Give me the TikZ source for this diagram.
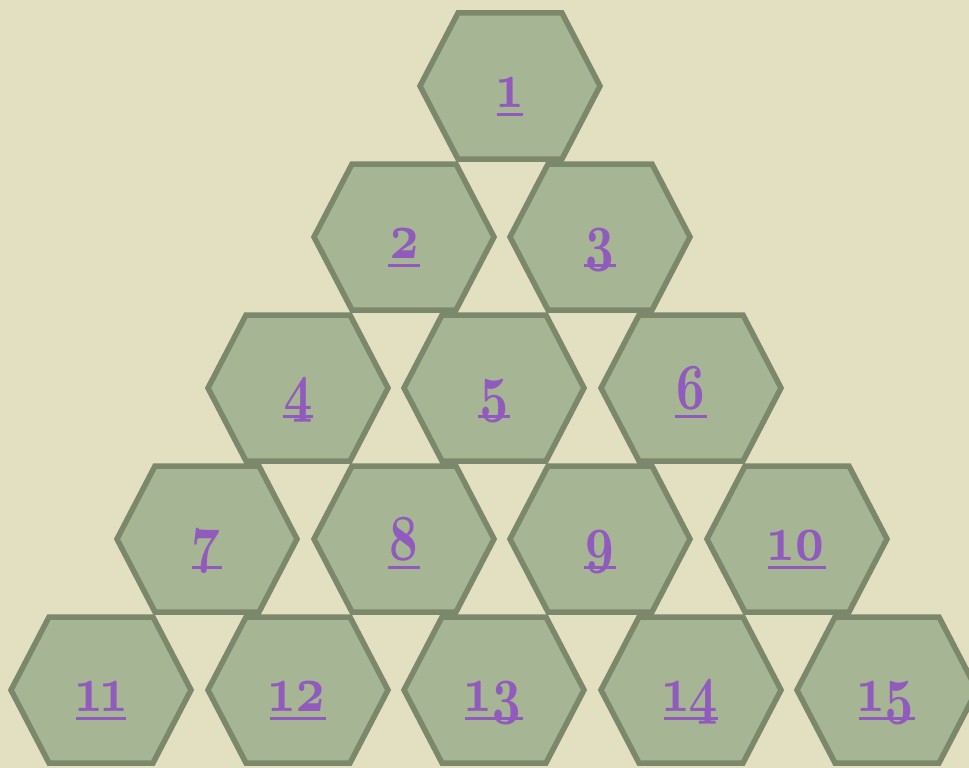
\documentclass[tikz,border=0pt]{standalone}
\usepackage{fontspec}
\setmainfont{lmroman10}[Extension=.otf, UprightFont=*-regular, BoldFont=*-bold, Numbers=OldStyle]
\usepackage{graphicx}
\usepackage{xcolor}
\definecolor{paper}{HTML}{E3E0C1}
\definecolor{hexfill}{HTML}{A6B593}
\definecolor{hexline}{HTML}{7B886B}
\definecolor{linkpurple}{HTML}{915BBD}
\newcommand\tallnum[1]{\scalebox{1}[1.32]{#1}}

\begin{document}
\begin{tikzpicture}[
  x=1pt, y=1pt,
  hexcell/.style={fill=hexfill,draw=hexline,line width=5.5pt,line join=miter},
  cellnum/.style={text=linkpurple,inner sep=0pt,anchor=base,
                  font=\fontsize{50}{50}\selectfont\bfseries},
  numline/.style={draw=linkpurple,line width=3pt},
]
% page and paper
\useasboundingbox (0,0) rectangle (969,-768);
\fill[paper] (0,0) rectangle (969,-768);
% the pyramid, row by row (number/centre x/centre y)
\foreach \n/\cx/\cy in {1/510/86,
    2/404/237, 3/600/237,
    4/298/388, 5/494/388, 6/691/388,
    7/207/539, 8/404/539, 9/600/539, 10/797/539,
    11/101/690, 12/298/690, 13/494/690, 14/691/690, 15/887/690}{
  \draw[hexcell] (\cx+90,-\cy) -- (\cx+52,-\cy+73) -- (\cx-52,-\cy+73)
    -- (\cx-90,-\cy) -- (\cx-52,-\cy-73) -- (\cx+52,-\cy-73) -- cycle;
  \node[cellnum] (num\n) at (\cx,-\cy-21) {\tallnum{\n}};
  \draw[numline] ([yshift=-7.5pt]num\n.base west) -- ([yshift=-7.5pt]num\n.base east);
}
\end{tikzpicture}
\end{document}
